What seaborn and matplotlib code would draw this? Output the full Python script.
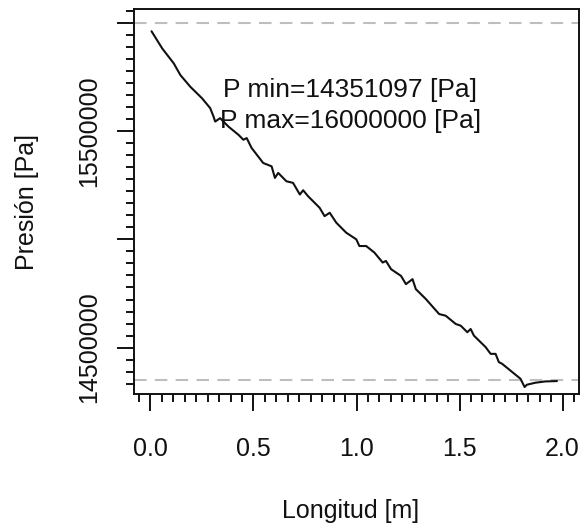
import numpy as np
import pandas as pd
import matplotlib
matplotlib.use("Agg")
import matplotlib.pyplot as plt
from matplotlib.ticker import MultipleLocator, FixedLocator
import seaborn as sns

# ---- data ----
longitud = [0.005, 0.032, 0.057, 0.113, 0.145, 0.193, 0.250, 0.290, 0.306, 0.314,
            0.338, 0.378, 0.427, 0.451, 0.467, 0.491, 0.547, 0.588, 0.604, 0.620,
            0.660, 0.692, 0.725, 0.741, 0.765, 0.821, 0.845, 0.870, 0.902, 0.950,
            0.999, 1.014, 1.047, 1.087, 1.127, 1.143, 1.168, 1.216, 1.240, 1.272,
            1.288, 1.337, 1.401, 1.433, 1.482, 1.506, 1.538, 1.554, 1.570, 1.627,
            1.651, 1.675, 1.691, 1.707, 1.796, 1.816, 1.827, 1.868, 1.916, 1.973]
presion = [15963000, 15921700, 15883500, 15814400, 15760500, 15706600, 15653200, 15607100, 15568400, 15545400,
           15561000, 15522400, 15484100, 15461100, 15468900, 15422900, 15353800, 15338100, 15284700, 15307700,
           15269000, 15261700, 15207800, 15227600, 15199900, 15146500, 15107800, 15123500, 15077400, 15031300,
           15000500, 14969600, 14969600, 14939200, 14893200, 14900600, 14862300, 14831500, 14793200, 14816300,
           14770200, 14724100, 14655000, 14647200, 14608900, 14601100, 14570800, 14585800, 14555100, 14501700,
           14470800, 14470800, 14432600, 14424700, 14355600, 14317400, 14328000, 14337300, 14343200, 14345000]
p_min = 14351097
p_max = 16000000
x_ticks = [0.0, 0.5, 1.0, 1.5, 2.0]
x_ticklabels = ["0.0", "0.5", "1.0", "1.5", "2.0"]
y_ticks = [14500000, 15000000, 15500000, 16000000]
y_ticklabels = ["14500000", "", "15500000", ""]
xlabel = "Longitud [m]"
ylabel = "Presión [Pa]"
annot = [f"P min={p_min} [Pa]", f"P max={p_max} [Pa]"]

df = pd.DataFrame({"x": longitud, "y": presion})

sns.set_theme(style="ticks")
plt.rcParams["font.family"] = ["Liberation Sans", "DejaVu Sans"]

fig = plt.figure(figsize=(5.87, 5.27), dpi=100)
ax = fig.add_axes([134/587, 1-394/527, (579-134)/587, (394-9)/527])

sns.lineplot(data=df, x="x", y="y", ax=ax, color="#111111", linewidth=1.5,
             sort=False, estimator=None)

for v in (p_min, p_max):
    ax.axhline(v, color="#BEBEBE", linewidth=1.5, linestyle=(0, (6, 4)), zorder=0)

ax.set_xlim(-0.08, 2.08)
rng = p_max - p_min
ax.set_ylim(p_min - 0.04*rng, p_max + 0.04*rng)

ax.xaxis.set_major_locator(FixedLocator(x_ticks))
ax.set_xticklabels(x_ticklabels)
ax.xaxis.set_minor_locator(MultipleLocator(0.5/9))
ax.yaxis.set_major_locator(FixedLocator(y_ticks))
ax.set_yticklabels(y_ticklabels, rotation=90, va="center")
ax.yaxis.set_minor_locator(MultipleLocator(500000/9))

fs = 18
ax.tick_params(axis="both", which="major", length=12, width=1.4, color="#111111",
               labelsize=fs, labelcolor="#111111", direction="out")
ax.tick_params(axis="both", which="minor", length=6, width=1.4, color="#111111",
               direction="out")
ax.tick_params(axis="x", which="major", pad=19)
ax.tick_params(axis="y", which="major", pad=12)

for s in ax.spines.values():
    s.set_visible(True)
    s.set_linewidth(1.4)
    s.set_color("#111111")

ax.set_xlabel(xlabel, fontsize=fs, color="#111111")
ax.set_ylabel(ylabel, fontsize=fs, color="#111111")
ax.xaxis.set_label_coords((351-134)/445, -(499-394)/385)
ax.yaxis.set_label_coords(-(134-39)/445, 0.5)

ax.text(0.97, 15692000, annot[0], ha="center", va="center", fontsize=19, color="#111111")
ax.text(0.97, 15548000, annot[1], ha="center", va="center", fontsize=19, color="#111111")

fig.savefig("out.png", dpi=100)
